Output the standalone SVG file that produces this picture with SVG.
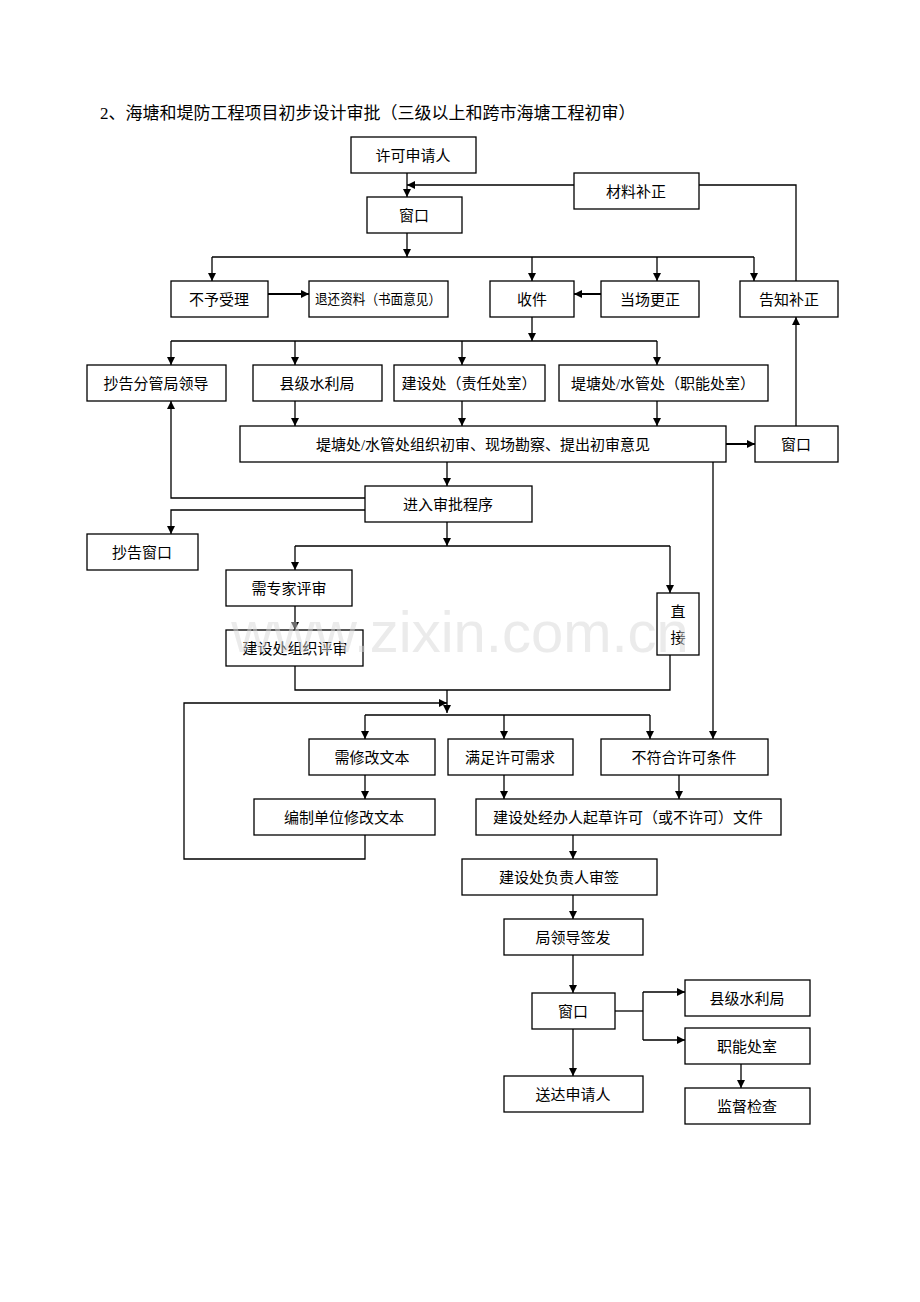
<svg xmlns="http://www.w3.org/2000/svg" width="920" height="1302" viewBox="0 0 920 1302">
<style>
rect{fill:#fff;stroke:#000;stroke-width:1.3}
text{font-family:"Liberation Serif","Noto Sans CJK SC",serif;font-size:15px;text-anchor:middle;fill:#000}
.c path{fill:none;stroke:#000;stroke-width:1.3}
</style>
<defs><marker id="a" viewBox="0 0 10 10" refX="10" refY="5" markerWidth="8" markerHeight="8" markerUnits="userSpaceOnUse" orient="auto"><path d="M0,0L10,5L0,10z" fill="#000"/></marker></defs>
<rect width="920" height="1302" style="stroke:none"/>
<text x="100" y="119" style="text-anchor:start;font-size:17px">2、海塘和堤防工程项目初步设计审批（三级以上和跨市海塘工程初审）</text>
<g class="c">
<path d="M407,173V197" marker-end="url(#a)"/>
<path d="M574,185H407" marker-end="url(#a)"/>
<path d="M699,185H796V281"/>
<path d="M407,233V257" marker-end="url(#a)"/>
<path d="M212,257H754"/>
<path d="M212,257V281" marker-end="url(#a)"/>
<path d="M532,257V281" marker-end="url(#a)"/>
<path d="M657,257V281" marker-end="url(#a)"/>
<path d="M754,257V281" marker-end="url(#a)"/>
<path d="M268,294H309" marker-end="url(#a)" style="stroke-width:2"/>
<path d="M601,294H574" marker-end="url(#a)" style="stroke-width:2"/>
<path d="M532,317V341" marker-end="url(#a)"/>
<path d="M171,341H657"/>
<path d="M171,341V365" marker-end="url(#a)"/>
<path d="M295,341V365" marker-end="url(#a)"/>
<path d="M462,341V365" marker-end="url(#a)"/>
<path d="M657,341V365" marker-end="url(#a)"/>
<path d="M295,401V426" marker-end="url(#a)"/>
<path d="M462,401V426" marker-end="url(#a)"/>
<path d="M657,401V426" marker-end="url(#a)"/>
<path d="M726,444H755" marker-end="url(#a)" style="stroke-width:2"/>
<path d="M796,426V317" marker-end="url(#a)"/>
<path d="M447,462V486" marker-end="url(#a)"/>
<path d="M713,462V739" marker-end="url(#a)"/>
<path d="M365,498H171V401" marker-end="url(#a)"/>
<path d="M365,510H171V534" marker-end="url(#a)"/>
<path d="M447,522V546" marker-end="url(#a)"/>
<path d="M295,546H670"/>
<path d="M295,546V570" marker-end="url(#a)"/>
<path d="M670,546V593" marker-end="url(#a)"/>
<path d="M295,606V630" marker-end="url(#a)"/>
<path d="M295,666V690H670V655"/>
<path d="M447,690V713" marker-end="url(#a)"/>
<path d="M365,835V859H184V703H447" marker-end="url(#a)"/>
<path d="M365,715H650"/>
<path d="M365,715V739" marker-end="url(#a)"/>
<path d="M504,715V739" marker-end="url(#a)"/>
<path d="M650,715V739" marker-end="url(#a)"/>
<path d="M365,775V799" marker-end="url(#a)"/>
<path d="M504,775V799" marker-end="url(#a)"/>
<path d="M679,775V799" marker-end="url(#a)"/>
<path d="M573,835V859" marker-end="url(#a)"/>
<path d="M573,895V919" marker-end="url(#a)"/>
<path d="M573,955V993" marker-end="url(#a)"/>
<path d="M573,1029V1076" marker-end="url(#a)"/>
<path d="M615,1011H643"/>
<path d="M643,992V1040"/>
<path d="M643,992H685" marker-end="url(#a)"/>
<path d="M643,1040H685" marker-end="url(#a)"/>
<path d="M741,1064V1088" marker-end="url(#a)"/>
</g>
<g id="n1"><rect x="351" y="137" width="125" height="36"/><text x="413" y="161">许可申请人</text></g>
<g id="n2"><rect x="574" y="173" width="125" height="36"/><text x="636" y="197">材料补正</text></g>
<g id="n3"><rect x="367" y="197" width="95" height="36"/><text x="414" y="221">窗口</text></g>
<g id="n4"><rect x="171" y="281" width="97" height="36"/><text x="219" y="305">不予受理</text></g>
<g id="n5"><rect x="309" y="281" width="139" height="36"/><text x="378" y="304" textLength="126" lengthAdjust="spacingAndGlyphs" style="font-size:14px">退还资料（书面意见）</text></g>
<g id="n6"><rect x="490" y="281" width="84" height="36"/><text x="532" y="305">收件</text></g>
<g id="n7"><rect x="601" y="281" width="98" height="36"/><text x="650" y="305">当场更正</text></g>
<g id="n8"><rect x="740" y="281" width="98" height="36"/><text x="789" y="305">告知补正</text></g>
<g id="n9"><rect x="87" y="365" width="139" height="36"/><text x="156" y="389">抄告分管局领导</text></g>
<g id="n10"><rect x="253" y="365" width="129" height="36"/><text x="317" y="389">县级水利局</text></g>
<g id="n11"><rect x="394" y="365" width="151" height="36"/><text x="469" y="389">建设处（责任处室）</text></g>
<g id="n12"><rect x="559" y="365" width="209" height="36"/><text x="663" y="389">堤塘处/水管处（职能处室）</text></g>
<g id="n13"><rect x="240" y="426" width="486" height="36"/><text x="483" y="450">堤塘处/水管处组织初审、现场勘察、提出初审意见</text></g>
<g id="n14"><rect x="755" y="426" width="83" height="36"/><text x="796" y="450">窗口</text></g>
<g id="n15"><rect x="365" y="486" width="167" height="36"/><text x="448" y="510">进入审批程序</text></g>
<g id="n16"><rect x="87" y="534" width="111" height="36"/><text x="142" y="558">抄告窗口</text></g>
<g id="n17"><rect x="226" y="570" width="126" height="36"/><text x="289" y="594">需专家评审</text></g>
<g id="n18"><rect x="226" y="630" width="137" height="36"/><text x="295" y="654">建设处组织评审</text></g>
<g id="n19"><rect x="657" y="593" width="42" height="62"/><text x="678" y="617">直</text><text x="678" y="643">接</text></g>
<g id="n20"><rect x="309" y="739" width="126" height="36"/><text x="372" y="763">需修改文本</text></g>
<g id="n21"><rect x="448" y="739" width="125" height="36"/><text x="510" y="763">满足许可需求</text></g>
<g id="n22"><rect x="601" y="739" width="167" height="36"/><text x="684" y="763">不符合许可条件</text></g>
<g id="n23"><rect x="254" y="799" width="181" height="36"/><text x="344" y="823">编制单位修改文本</text></g>
<g id="n24"><rect x="476" y="799" width="305" height="36"/><text x="628" y="823">建设处经办人起草许可（或不许可）文件</text></g>
<g id="n25"><rect x="462" y="859" width="195" height="36"/><text x="559" y="883">建设处负责人审签</text></g>
<g id="n26"><rect x="504" y="919" width="139" height="36"/><text x="573" y="943">局领导签发</text></g>
<g id="n27"><rect x="532" y="993" width="83" height="36"/><text x="573" y="1017">窗口</text></g>
<g id="n28"><rect x="685" y="980" width="125" height="36"/><text x="747" y="1004">县级水利局</text></g>
<g id="n29"><rect x="685" y="1028" width="125" height="36"/><text x="747" y="1052">职能处室</text></g>
<g id="n30"><rect x="504" y="1076" width="139" height="36"/><text x="573" y="1100">送达申请人</text></g>
<g id="n31"><rect x="685" y="1088" width="125" height="36"/><text x="747" y="1112">监督检查</text></g>
<text x="460" y="652" style="font-family:'Liberation Sans',sans-serif;font-size:58px;fill:#d8d8d8;fill-opacity:0.5">www.zixin.com.cn</text>
</svg>
